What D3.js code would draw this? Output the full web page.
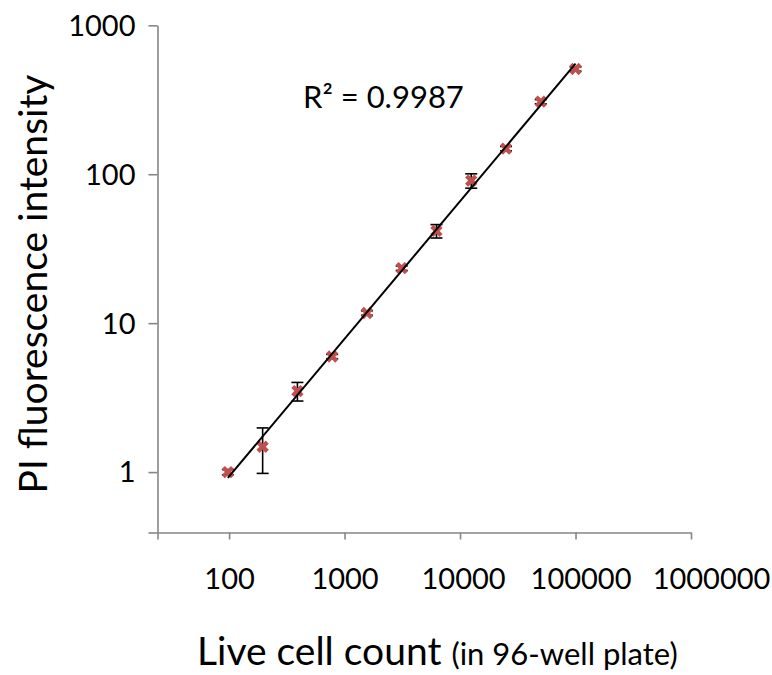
<!DOCTYPE html>
<html>
<head>
<meta charset="utf-8">
<script src="https://cdn.jsdelivr.net/npm/d3@7"></script>
<style>
  body { margin: 0; background: #fff; }
  text { font-family: Lato, "Open Sans", sans-serif; fill: #000; }
</style>
</head>
<body>
<svg id="chart"></svg>
<script>
const cellCount = [97.66, 195.3, 390.6, 781.25, 1562.5, 3125, 6250, 12500, 25000, 50000, 100000];
const intensity = [1.0, 1.48, 3.5, 5.97, 11.7, 23.4, 41.6, 90.6, 148.6, 307, 509];
const errorBar = [0.04, 0.5, 0.5, 0.2, 0.4, 0.8, 4.3, 10, 5, 10, 17];
const xTicks = [100, 1000, 10000, 100000, 1000000];
const yTicks = [1, 10, 100, 1000];
const rSquared = "0.9987";

let width = 772, height = 675;
const axisColor = "#868686";
const markerColor = "#C0504D";

let x = d3.scaleLog().domain([24, 1e6]).range([157.5, 691]);
let y = d3.scaleLog().domain([0.393, 1000]).range([532.5, 25.3]);

let svg = d3.select("#chart")
  .attr("width", width)
  .attr("height", height);

svg.append("rect").attr("width", width).attr("height", height).attr("fill", "#fff");

/* axes - a tick also sits at each axis start, like excel draws it */
let xAxis = d3.axisBottom(x)
  .tickValues([x.domain()[0]].concat(xTicks))
  .tickFormat(d => xTicks.includes(d) ? d : "")
  .tickSize(7).tickSizeOuter(0);
let yAxis = d3.axisLeft(y)
  .tickValues([y.domain()[0]].concat(yTicks))
  .tickFormat(d => yTicks.includes(d) ? d : "")
  .tickSize(9).tickSizeOuter(0);

let gx = svg.append("g")
  .attr("transform", "translate(0," + y.range()[0] + ")")
  .call(xAxis);
let gy = svg.append("g")
  .attr("transform", "translate(" + x.range()[0] + ",0)")
  .call(yAxis);

[gx, gy].forEach(function(g) {
  g.select(".domain").attr("stroke", axisColor).attr("stroke-width", 1.6);
  g.selectAll(".tick line").attr("stroke", axisColor).attr("stroke-width", 1.6);
  g.selectAll(".tick text")
    .attr("fill", "#000")
    .style("font-family", "Lato, sans-serif")
    .style("font-size", "29px");
});
// excel nudges the long labels to the right a bit
gx.selectAll(".tick text").attr("y", 56).attr("dy", 0)
  .attr("dx", d => d >= 1000000 ? 20 : d >= 100000 ? 5 : d >= 10000 ? 3 : 0);
gy.selectAll(".tick text").attr("x", -22).attr("dy", "0.34em");

/* error bars */
let capW = 6;
let err = svg.append("g").attr("stroke", "#000").attr("stroke-width", 1.6);
cellCount.forEach(function(c, i) {
  let top = y(intensity[i] + errorBar[i]);
  let bot = y(intensity[i] - errorBar[i]);
  err.append("line").attr("x1", x(c)).attr("x2", x(c)).attr("y1", top).attr("y2", bot);
  err.append("line").attr("x1", x(c) - capW).attr("x2", x(c) + capW).attr("y1", top).attr("y2", top);
  err.append("line").attr("x1", x(c) - capW).attr("x2", x(c) + capW).attr("y1", bot).attr("y2", bot);
});

/* markers */
svg.append("g").selectAll("path")
  .data(cellCount)
  .enter().append("path")
  .attr("d", d3.symbol(d3.symbolCross, 95))
  .attr("transform", (d, i) => "translate(" + x(d) + "," + y(intensity[i]) + ") rotate(45)")
  .attr("fill", markerColor);

/* power trendline (least squares in log space) */
let lx = cellCount.map(Math.log10);
let ly = intensity.map(Math.log10);
let mx = d3.mean(lx), my = d3.mean(ly);
let slope = d3.sum(lx, (v, i) => (v - mx) * (ly[i] - my)) / d3.sum(lx, v => (v - mx) * (v - mx));
let icpt = my - slope * mx;
let fit = c => Math.pow(10, icpt + slope * Math.log10(c));
let ends = [cellCount[0], cellCount[cellCount.length - 1]];

svg.append("path")
  .datum(ends)
  .attr("d", d3.line().x(d => x(d)).y(d => y(fit(d))))
  .attr("stroke", "#000")
  .attr("stroke-width", 2)
  .attr("fill", "none");

/* labels */
svg.append("text")
  .attr("x", 303).attr("y", 108)
  .style("font-size", "31px")
  .text("R\u00B2 = " + rSquared);

let xt = svg.append("text")
  .attr("x", 197).attr("y", 665);
xt.append("tspan").style("font-size", "39px").text("Live cell count ");
xt.append("tspan").style("font-size", "31px").text("(in 96-well plate)");

svg.append("text")
  .attr("transform", "translate(47,284) rotate(-90)")
  .attr("text-anchor", "middle")
  .style("font-size", "39px")
  .text("PI fluorescence intensity");
</script>
</body>
</html>
